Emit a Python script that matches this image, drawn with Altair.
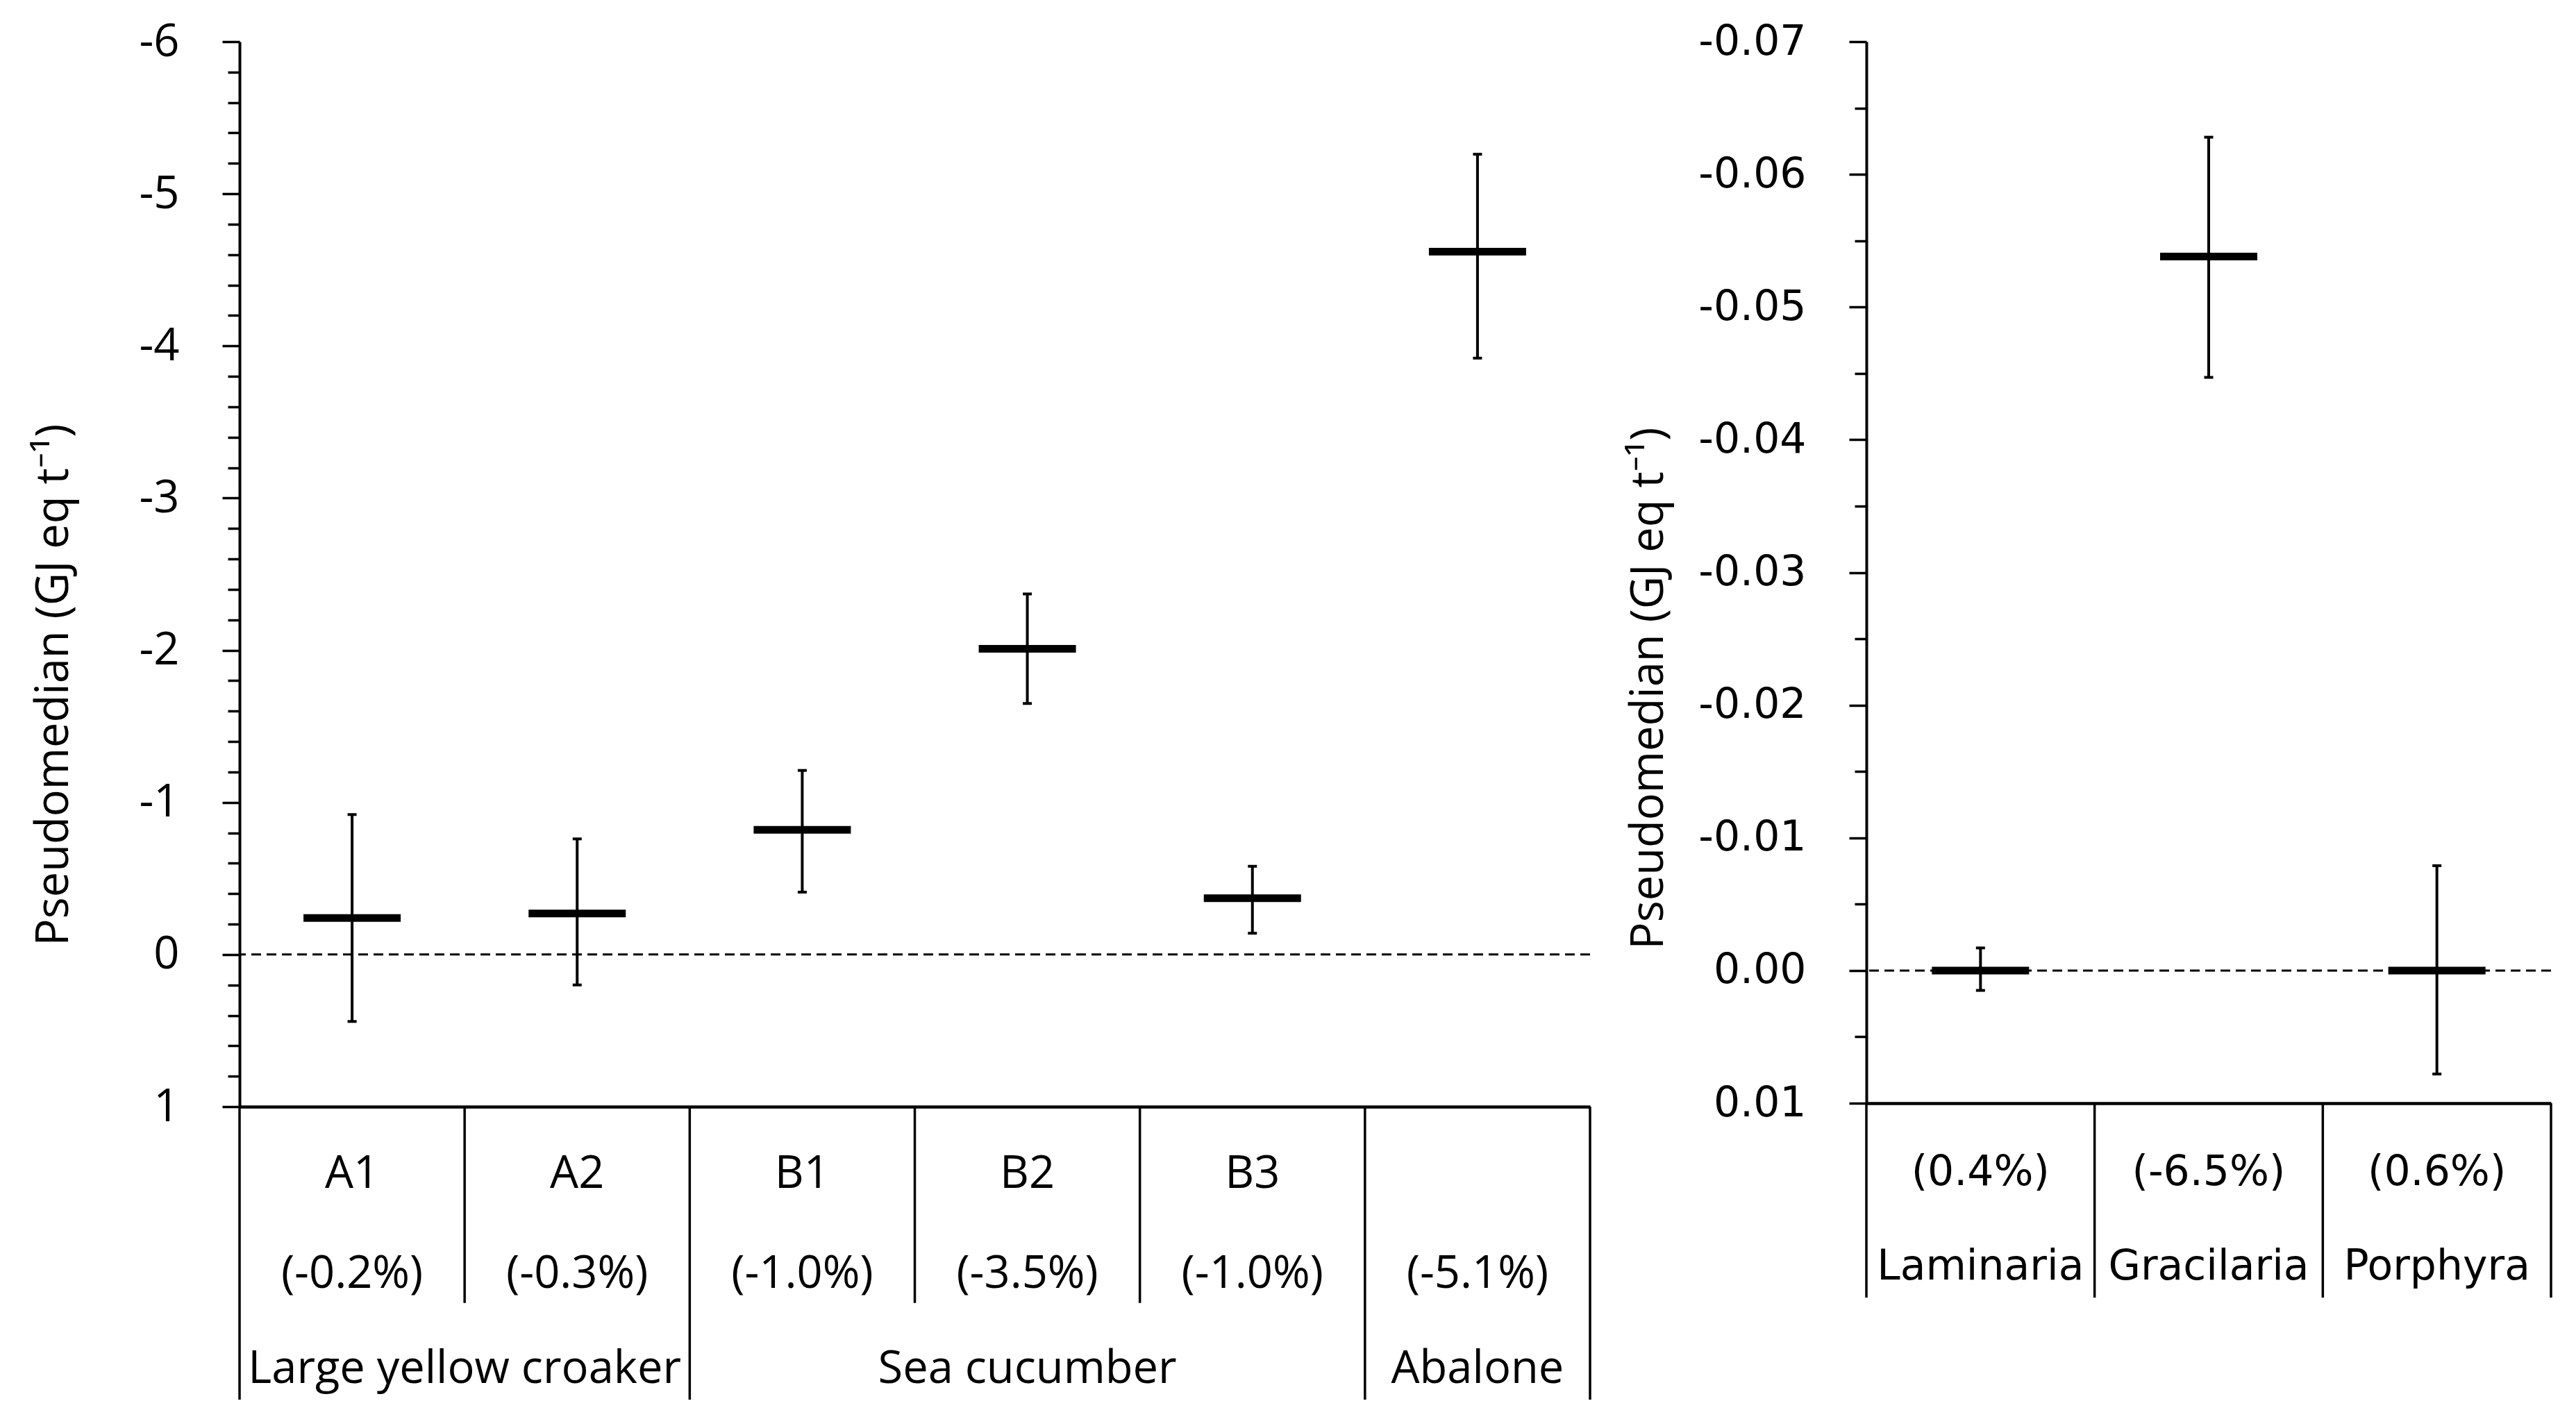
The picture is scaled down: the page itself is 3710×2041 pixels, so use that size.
import altair as alt
import pandas as pd

# ---------------- data: left panel ----------------
L_CODES = ["A1", "A2", "B1", "B2", "B3", ""]
L_PCT = ["(-0.2%)", "(-0.3%)", "(-1.0%)", "(-3.5%)", "(-1.0%)", "(-5.1%)"]
L_MED = [-0.24, -0.27, -0.82, -2.01, -0.37, -4.62]
L_UP = [-0.92, -0.76, -1.21, -2.37, -0.58, -5.26]
L_LO = [0.44, 0.20, -0.41, -1.65, -0.14, -3.92]
L_GROUPS = ["Large yellow croaker", "Sea cucumber", "Abalone"]
L_GROUP_FIRST = [0, 2, 5]
L_GROUP_LAST = [1, 4, 5]
L_MAJOR = [-6, -5, -4, -3, -2, -1, 0, 1]

# ---------------- data: right panel ----------------
R_NAMES = ["Laminaria", "Gracilaria", "Porphyra"]
R_PCT = ["(0.4%)", "(-6.5%)", "(0.6%)"]
R_MED = [0.0, -0.0538, 0.0]
R_UP = [-0.0017, -0.0628, -0.0079]
R_LO = [0.0015, -0.0447, 0.0078]
R_MAJOR = [-0.07, -0.06, -0.05, -0.04, -0.03, -0.02, -0.01, 0.0, 0.01]

TITLE = "Pseudomedian (GJ eq t\u207b\u00b9)"
MINUS = "\u2212"


def minor_values(major, step):
    vals = []
    for a, b in zip(major[:-1], major[1:]):
        k = int(round((b - a) / step))
        for j in range(k):
            vals.append(round(a + j * step, 6))
    vals.append(major[-1])
    return vals


def panel(n, med, up, lo, major, step, fmt, is_major, width, height,
          tick_font, tick_fs, title_x, title_y,
          text_rows, group_rows, dividers, depth):
    xs = alt.Scale(domain=[0, n], nice=False, zero=False)
    x_axis = alt.Axis(labels=False, ticks=False, title=None, grid=False,
                      domainColor="black", domainWidth=4.5)
    ys = alt.Scale(domain=[major[0], major[-1]], reverse=True, nice=False, zero=False)
    y_axis = alt.Axis(
        values=minor_values(major, step),
        tickCount=1000,
        labelExpr=f"({is_major}) ? replace(format(datum.value, '{fmt}'), '{MINUS}', '-') : ''",
        labelOverlap=False,
        tickSize={"condition": {"test": is_major, "value": 25}, "value": 17},
        tickWidth=3.5, tickColor="black",
        domainColor="black", domainWidth=4,
        labelFont=tick_font, labelFontSize=tick_fs, labelColor="black",
        labelPadding=62, grid=False,
        title=TITLE, titleFont="Open Sans", titleFontSize=65,
        titleFontWeight="normal", titleColor="black",
        titleAngle=270, titleAlign="center", titleBaseline="middle",
        titleX=title_x, titleY=title_y,
    )
    df = pd.DataFrame({
        "pos": [i + 0.5 for i in range(n)],
        "med": med, "up": up, "lo": lo,
    })
    X = alt.X("pos:Q", scale=xs, axis=x_axis)
    zero = alt.Chart(pd.DataFrame({"z": [0.0]})).mark_rule(
        color="black", strokeWidth=3, strokeDash=[14, 8]
    ).encode(y=alt.Y("z:Q", scale=ys, axis=y_axis))
    bar = alt.Chart(df).mark_rule(color="black", strokeWidth=4).encode(
        x=X, y=alt.Y("lo:Q", scale=ys, axis=y_axis), y2="up:Q")
    cap_lo = alt.Chart(df).mark_tick(color="black", opacity=1, orient="horizontal", size=13, thickness=4).encode(
        x=X, y=alt.Y("lo:Q", scale=ys, axis=y_axis))
    cap_up = alt.Chart(df).mark_tick(color="black", opacity=1, orient="horizontal", size=13, thickness=4).encode(
        x=X, y=alt.Y("up:Q", scale=ys, axis=y_axis))
    median = alt.Chart(df).mark_tick(color="black", opacity=1, orient="horizontal", size=140, thickness=11).encode(
        x=X, y=alt.Y("med:Q", scale=ys, axis=y_axis))
    main = alt.layer(zero, bar, cap_lo, cap_up, median)

    # table below the axis
    unit = 140.7
    ts = alt.Scale(domain=[0, depth], range=[height, height + depth * unit], nice=False, zero=False)
    TX = alt.X("pos:Q", scale=xs, axis=x_axis)
    div_df = pd.DataFrame({"pos": [d[0] for d in dividers], "y0": 0.0, "y1": [d[1] for d in dividers]})
    divs = alt.Chart(div_df).mark_rule(color="black", strokeWidth=3.5).encode(
        x=TX, y=alt.Y("y0:Q", scale=ts, axis=None), y2="y1:Q")
    layers = [divs]
    for (labels, ry, font, fs) in text_rows:
        tdf = pd.DataFrame({"pos": [i + 0.5 for i in range(n)], "ry": ry, "label": labels})
        layers.append(alt.Chart(tdf).mark_text(font=font, fontSize=fs, color="black",
                                              align="center", baseline="middle").encode(
            x=TX, y=alt.Y("ry:Q", scale=ts, axis=None), text="label:N"))
    for (labels, centers, ry, font, fs) in group_rows:
        gdf = pd.DataFrame({"pos": centers, "ry": ry, "label": labels})
        layers.append(alt.Chart(gdf).mark_text(font=font, fontSize=fs, color="black",
                                              align="center", baseline="middle").encode(
            x=TX, y=alt.Y("ry:Q", scale=ts, axis=None), text="label:N"))
    table = alt.layer(*layers)
    return alt.layer(main, table).resolve_scale(y="independent").properties(width=width, height=height)


left_centers = [(f + l + 1) / 2 for f, l in zip(L_GROUP_FIRST, L_GROUP_LAST)]
left = panel(
    6, L_MED, L_UP, L_LO, L_MAJOR, 0.2, ".0f",
    "abs(datum.value - round(datum.value)) < 1e-6",
    1945, 1534, "Open Sans", 65, -268, 926,
    text_rows=[(L_CODES, 0.69, "Open Sans", 65), (L_PCT, 1.71, "Open Sans", 65)],
    group_rows=[(L_GROUPS, left_centers, 2.69, "Open Sans", 65)],
    dividers=[(0, 3.0), (1, 2.01), (2, 3.0), (3, 2.01), (4, 2.01), (5, 3.0), (6, 3.0)],
    depth=3.0,
)

right = panel(
    3, R_MED, R_UP, R_LO, R_MAJOR, 0.005, ".2f",
    "abs(datum.value * 100 - round(datum.value * 100)) < 1e-6",
    986, 1529, "DejaVu Sans", 60, -314, 931,
    text_rows=[(R_PCT, 0.71, "DejaVu Sans", 60), (R_NAMES, 1.68, "DejaVu Sans", 60)],
    group_rows=[],
    dividers=[(0, 1.99), (1, 1.99), (2, 1.99), (3, 1.99)],
    depth=1.99,
)

chart = alt.hconcat(left, right, spacing=50).properties(
    padding={"left": 37, "top": 20, "right": 10, "bottom": 10}
).configure_view(stroke=None)

chart.save("out.html", embed_options={"renderer": "svg", "actions": False})
